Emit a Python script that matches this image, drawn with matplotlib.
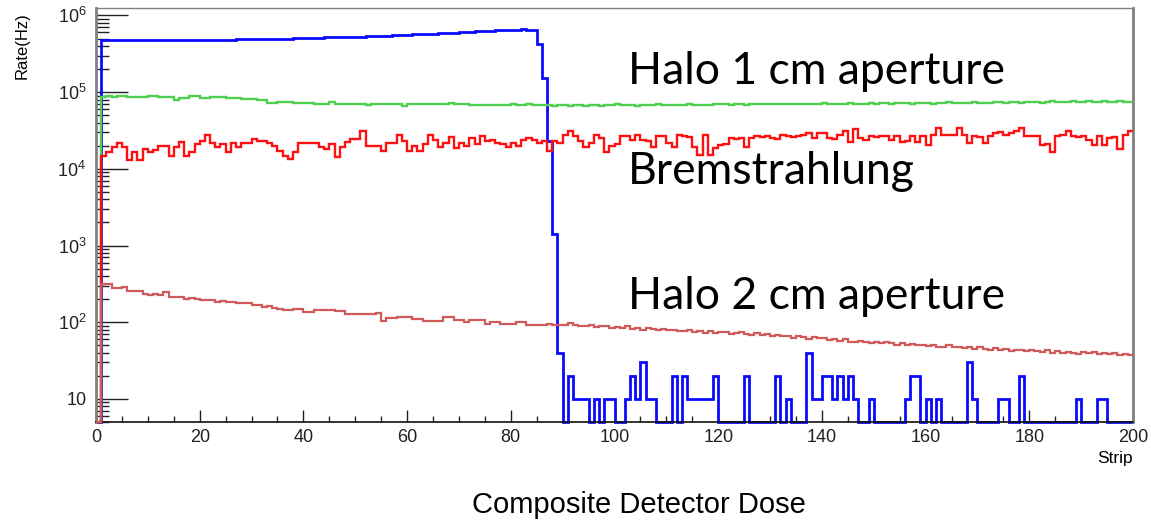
import numpy as np
import matplotlib.pyplot as plt
from matplotlib.ticker import MultipleLocator, LogLocator, FuncFormatter, NullFormatter

plt.rcParams['font.family'] = ['Liberation Sans', 'DejaVu Sans']
plt.rcParams['mathtext.fontset'] = 'custom'
plt.rcParams['mathtext.rm'] = 'Liberation Sans'
plt.rcParams['mathtext.it'] = 'Liberation Sans:italic'

# one bin per strip, strips 0..199
strip_edges = np.arange(0, 201)

# blue: strips 0-89 in kHz, then the sparse tail (strips 90-199) in units of 10 Hz
rate_blue_khz = [
    0, 478, 472, 472, 472, 472, 472, 472, 472, 480,
    472, 482, 472, 480, 472, 472, 472, 472, 472, 472,
    472, 472, 472, 472, 472, 472, 472, 486, 486, 486,
    486, 486, 486, 486, 486, 486, 486, 486, 501, 501,
    501, 501, 501, 501, 521, 521, 521, 521, 521, 521,
    521, 521, 543, 543, 543, 543, 543, 560, 560, 560,
    560, 577, 577, 577, 577, 577, 595, 595, 595, 595,
    613, 613, 613, 631, 631, 631, 631, 650, 650, 650,
    650, 650, 670, 637, 637, 427, 154, 23.3, 1.41, 0.04,
]
rate_blue_tail = [
    0, 2, 1, 1, 1, 0, 1, 0, 1, 1,
    0, 0, 1, 2, 1, 3, 1, 1, 0, 0,
    0, 2, 0, 2, 1, 1, 1, 1, 1, 2,
    0, 0, 0, 0, 0, 2, 0, 0, 0, 0,
    0, 2, 0, 1, 0, 0, 0, 4, 1, 1,
    2, 2, 1, 2, 1, 2, 1, 0, 0, 1,
    0, 0, 0, 0, 0, 0, 1, 2, 2, 0,
    1, 0, 1, 0, 0, 0, 0, 0, 3, 1,
    0, 0, 0, 0, 1, 1, 0, 0, 2, 0,
    0, 0, 0, 0, 0, 0, 0, 0, 0, 1,
    0, 0, 0, 1, 1, 0, 0, 0, 0, 0,
]

# Halo 1 cm aperture, kHz
rate_halo1_khz = [
    0, 87, 88, 87, 88, 88, 87, 87, 86, 86,
    90, 90, 86, 86, 86, 79.5, 84, 84, 88, 88,
    83, 83, 86, 86, 86, 83, 83, 83, 82, 82,
    82, 80, 80, 72.5, 72.5, 74, 74, 74, 72, 72,
    72, 72, 70, 70, 70, 74, 71, 71, 71, 71,
    71, 71, 67, 69.5, 69.5, 69.5, 69.5, 69.5, 69.5, 66,
    69.5, 69.5, 69.5, 69.5, 69.5, 69.5, 69.5, 69.5, 72, 69.5,
    69.5, 69.5, 67, 67, 68, 68, 67, 68, 68, 67,
    69, 68, 67, 69, 68, 67, 68, 68, 66, 67,
    68, 66, 67, 67, 66, 68, 68, 66, 67, 67,
    69, 68, 68, 67, 66, 68, 68, 68, 70, 68,
    68, 67, 68, 68, 70, 68, 68, 68, 67, 69,
    69, 69, 68, 69, 70, 68, 69, 69, 70, 70,
    69, 71, 69, 69, 70, 70, 71, 69, 70, 70,
    72, 70, 70, 71, 71, 72, 70, 71, 71, 72,
    71, 72, 72, 70, 72, 72, 73, 71, 72, 72,
    73, 71, 72, 73, 74, 72, 72, 73, 72, 74,
    73, 73, 72, 74, 74, 73, 75, 74, 73, 75,
    74, 74, 73, 75, 76, 74, 74, 75, 76, 74,
    75, 76, 74, 75, 76, 75, 75, 76, 75, 75,
]

# Bremstrahlung, kHz
rate_brems_khz = [
    0, 14.9, 16.4, 19.0, 22.0, 19.0, 13.0, 16.4, 13.0, 18.3,
    16.4, 17.8, 20.0, 20.0, 14.9, 19.0, 22.5, 14.9, 16.4, 21.0,
    23.3, 28.0, 22.0, 19.5, 21.0, 16.4, 22.0, 19.0, 22.0, 22.0,
    24.3, 23.3, 23.3, 22.0, 20.0, 17.1, 14.9, 13.6, 16.4, 22.0,
    22.0, 22.0, 22.0, 19.0, 18.3, 21.0, 14.2, 19.0, 22.5, 24.3,
    24.3, 31.6, 20.0, 20.0, 20.0, 17.1, 22.0, 22.0, 28.0, 23.3,
    17.1, 20.0, 17.1, 21.0, 28.0, 24.0, 19.0, 21.5, 26.0, 18.5,
    22.0, 20.0, 25.0, 21.0, 27.0, 23.3, 24.0, 22.0, 21.0, 19.5,
    22.0, 20.0, 24.0, 25.5, 24.0, 22.0, 23.3, 17.3, 23.3, 22.0,
    28.0, 31.5, 27.0, 23.3, 19.5, 22.0, 28.0, 25.5, 16.7, 20.0,
    21.0, 27.0, 27.0, 24.0, 28.0, 24.0, 23.3, 19.5, 27.0, 26.5,
    21.5, 19.4, 27.3, 26.5, 26.0, 19.4, 15.1, 27.3, 15.1, 18.9,
    20.5, 20.8, 25.2, 24.6, 25.2, 19.4, 25.2, 26.5, 25.8, 26.5,
    25.2, 24.6, 27.3, 26.5, 25.8, 26.5, 28.0, 29.5, 25.2, 29.5,
    29.5, 25.2, 24.6, 28.0, 31.0, 22.7, 33.0, 25.2, 24.0, 26.5,
    25.8, 26.5, 27.0, 24.0, 26.5, 22.7, 23.3, 26.5, 22.7, 26.5,
    20.5, 28.0, 34.5, 28.0, 27.3, 28.0, 34.5, 28.0, 21.5, 26.5,
    25.8, 21.5, 26.5, 29.5, 30.2, 28.0, 29.5, 31.0, 34.5, 26.5,
    27.0, 26.5, 20.5, 21.0, 16.6, 26.5, 27.3, 31.0, 26.5, 25.8,
    26.5, 24.0, 20.5, 26.5, 20.5, 25.2, 25.8, 18.0, 28.0, 31.0,
]

# Halo 2 cm aperture, Hz
rate_halo2_hz = [
    0, 318, 314, 280, 280, 290, 252, 252, 252, 235,
    228, 232, 225, 245, 215, 215, 215, 200, 205, 200,
    195, 195, 195, 185, 188, 185, 183, 177, 177, 180,
    170, 170, 160, 162, 155, 150, 145, 145, 150, 150,
    137, 137, 143, 143, 143, 143, 138, 138, 128, 128,
    128, 128, 128, 128, 131, 104, 113, 113, 116, 116,
    116, 110, 110, 104, 104, 104, 104, 117, 117, 108,
    108, 100, 106, 106, 106, 96, 102, 102, 95, 95,
    95, 100, 100, 93, 93, 93, 93, 96, 91, 91,
    91, 97, 91, 90, 88, 92, 86, 88, 90, 84,
    86, 85, 88, 82, 84, 80, 85, 81, 78, 82,
    79, 80, 77, 76, 80, 75, 77, 73, 76, 72,
    74, 74, 71, 72, 75, 70, 69, 72, 68, 70,
    67, 68, 66, 67, 63, 66, 64, 61, 64, 62,
    62, 58, 60, 57, 60, 56, 55, 57, 55, 54,
    56, 53, 55, 53, 51, 54, 50, 52, 50, 51,
    49, 50, 48, 47, 50, 47, 48, 46, 47, 45,
    47, 45, 44, 46, 43, 45, 42, 44, 43, 42,
    44, 42, 41, 43, 40, 42, 40, 41, 40, 39,
    41, 40, 41, 38, 40, 39, 40, 37, 38, 37,
]

rate_blue = np.concatenate([np.array(rate_blue_khz) * 1e3, np.array(rate_blue_tail) * 10.0])
rate_halo1 = np.array(rate_halo1_khz) * 1e3
rate_brems = np.array(rate_brems_khz) * 1e3
rate_halo2 = np.array(rate_halo2_hz, dtype=float)

Y_MIN, Y_MAX = 5, 1.25e6

fig = plt.figure(figsize=(11.51, 5.23), dpi=100)
ax = fig.add_axes([96 / 1151, 1 - 422 / 523, (1133 - 96) / 1151, (422 - 8) / 523])
ax.set_yscale('log')

# empty bins sit on the bottom frame, like ROOT draws them
def draw(vals, color, lw, z):
    ax.stairs(np.clip(vals, Y_MIN, None), strip_edges, baseline=None,
              color=color, lw=lw, zorder=z, clip_on=False)

# drawn in the same order as the histograms were overlaid
draw(rate_blue, '#0a0aff', 2.0, 2)
draw(rate_halo1, '#4fcf4f', 1.7, 3)
draw(rate_brems, '#ff1010', 1.7, 4)
draw(rate_halo2, '#d05a5a', 1.6, 5)

ax.set_xlim(0, 200)
ax.set_ylim(Y_MIN, Y_MAX)

ax.xaxis.set_major_locator(MultipleLocator(20))
ax.xaxis.set_minor_locator(MultipleLocator(5))
ax.yaxis.set_major_locator(LogLocator(base=10, numticks=10))
ax.yaxis.set_minor_locator(LogLocator(base=10, subs=np.arange(2, 10), numticks=20))
ax.yaxis.set_minor_formatter(NullFormatter())

def decade_label(v, pos):
    e = int(round(np.log10(v)))
    return '10' if e == 1 else r'$10^{%d}$' % e

ax.yaxis.set_major_formatter(FuncFormatter(decade_label))

ax.tick_params(axis='both', which='both', direction='in', colors='#222222',
               top=False, right=False, labelsize=13)
ax.tick_params(axis='y', which='major', length=23, width=1.0, pad=7)
ax.tick_params(axis='y', which='minor', length=9.5, width=1.0)
ax.tick_params(axis='x', which='major', length=8.5, width=1.0, pad=5)
ax.tick_params(axis='x', which='minor', length=4.5, width=1.0)

for side in ('left', 'right', 'top'):
    ax.spines[side].set_color('#808080')
ax.spines['left'].set_linewidth(2.0)
ax.spines['right'].set_linewidth(2.0)
ax.spines['top'].set_linewidth(1.0)
ax.spines['bottom'].set_color('#111111')
ax.spines['bottom'].set_linewidth(1.2)

# axis titles in ROOT placement
fig.text(1133 / 1151, 1 - 458 / 523, 'Strip', ha='right', va='center', fontsize=12.5)
fig.text(22 / 1151, 1 - 12 / 523, 'Rate(Hz)', ha='center', va='top', rotation=90, fontsize=12)
fig.text(639 / 1151, 1 - 505 / 523, 'Composite Detector Dose', ha='center', va='center',
         fontsize=21)

# slide annotations
note_font = ['Lato', 'DejaVu Sans']
fig.text(628 / 1151, 1 - 84 / 523, 'Halo 1 cm aperture', ha='left', va='baseline',
         fontsize=32, family=note_font)
fig.text(628 / 1151, 1 - 184 / 523, 'Bremstrahlung', ha='left', va='baseline',
         fontsize=32, family=note_font)
fig.text(628 / 1151, 1 - 309 / 523, 'Halo 2 cm aperture', ha='left', va='baseline',
         fontsize=32, family=note_font)

fig.savefig('out.png', dpi=100)
